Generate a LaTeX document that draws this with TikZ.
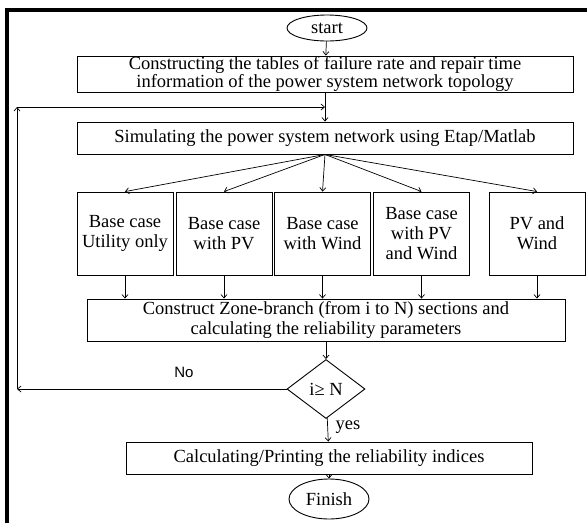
\documentclass[tikz,border=0pt]{standalone}
\usepackage{fontspec}
\setmainfont{Liberation Serif}
\newfontfamily\labelfont{Liberation Sans}
\usetikzlibrary{
	positioning
	,shapes.geometric
	,arrows.meta
}
\tikzset{
	stepbox/.style={
		draw,
		rectangle,
		inner sep=0mm,
		align=center,
		line width=.9pt,
	},
	terminalbox/.style={
		draw,
		ellipse,
		inner sep=0mm,
		minimum width=80pt,
		line width=.9pt,
	},
	decisionbox/.style={
		draw,
		diamond,
		aspect=1.3,
		inner sep=0mm,
		minimum width=78pt,
		minimum height=59pt,
		line width=.9pt,
	},
	casebox/.style={
		stepbox,
		minimum width=96pt,
		minimum height=83pt
	},
	arrowline/.style={
		-{Straight Barb[length=3.5pt,width=6pt]},
		line width=.7pt
	}
}
\tikzset{
	every node/.style={font=\fontsize{18.5}{20}\selectfont}
}

\begin{document}
\begin{tikzpicture}[x=1pt, y=-1pt]
\useasboundingbox (0,0) rectangle (587,523);

% frame
\draw[line width=4pt] (7,523) -- (7,9.5) -- (587,9.5);

\node[terminalbox, minimum height=26pt](start) at(327,28){start};
\node[stepbox, minimum width=496pt, minimum height=36pt, font=\fontsize{18.5}{17}\selectfont](tables) at(325,74){Constructing the tables of failure rate and repair time\\information of the power system network topology};
\node[stepbox, minimum width=496pt, minimum height=32pt](sim) at(325,138){Simulating the power system network using Etap/Matlab};

% cases
\node[casebox](utility) at(125,233.5){Base case\\Utility only};
\node[casebox](pv) at(224,233.5){Base case\\with PV};
\node[casebox](wind) at(322.5,233.5){Base case\\with Wind};
\node[casebox](pvwind) at(421.5,233.5){Base case\\with PV\\and Wind};
\node[casebox](hybrid) at(537,233.5){PV and\\Wind};

\node[stepbox, minimum width=478pt, minimum height=42pt](zone) at(326,320){Construct Zone-branch (from i to N) sections and\\calculating the reliability parameters};
\node[decisionbox](check) at(326,389){i≥ N};
\node[stepbox, minimum width=406pt, minimum height=32pt](indices) at(329,458){Calculating/Printing the reliability indices};
\node[terminalbox, minimum height=40pt](finish) at(329,499){Finish};

\node[font=\labelfont\fontsize{15}{15}\selectfont](no) at(184,372){No};
\node(yes) at(348,427){yes};

\coordinate(loopA) at(17,389);
\coordinate(loopB) at(17,107);
\coordinate(loopC) at(325,107);

\foreach \x/\y in {%
start/tables, tables/sim%
,zone/check, check/indices, indices/finish%
}{
	\draw[arrowline] (\x) -- (\y);
}

\foreach \y in {utility, pv, wind, pvwind, hybrid}{
	\draw[arrowline] (sim.south) -- (\y.north);
	\draw[arrowline] (\y.south) -- (\y.south |- zone.north);
}

% loop back
\draw[arrowline] (check.west) -- (loopA);
\draw[arrowline] (loopA) -- (loopB);
\draw[arrowline] (loopB) -- (loopC);
\end{tikzpicture}
\end{document}
